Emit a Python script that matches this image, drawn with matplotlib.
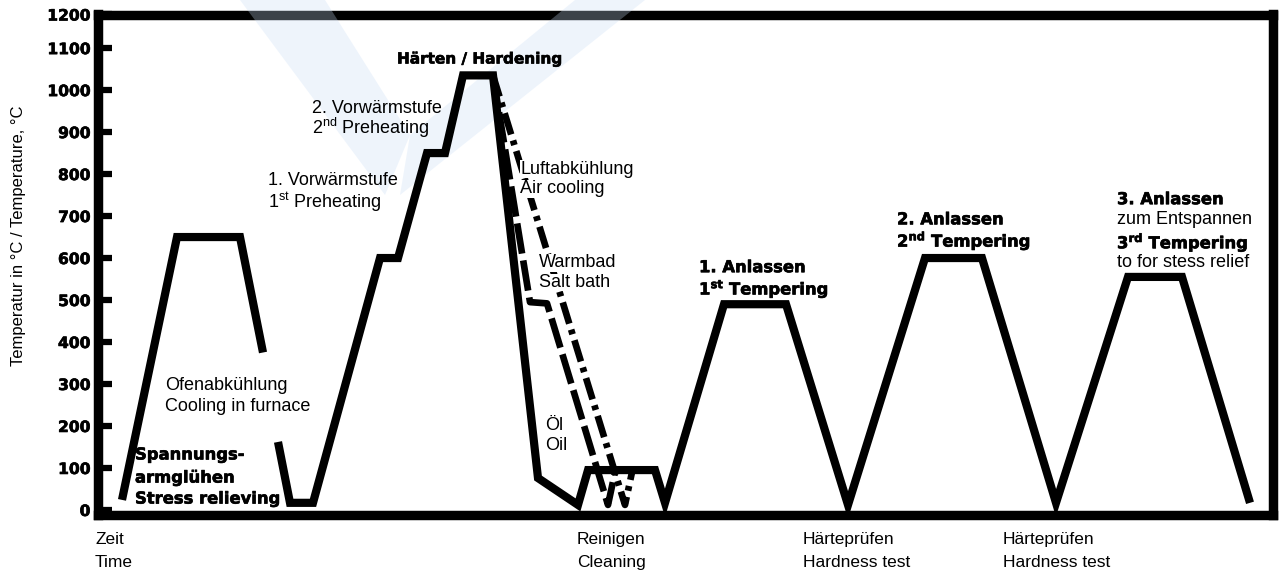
import matplotlib
matplotlib.use("Agg")
import matplotlib.pyplot as plt
from matplotlib import patheffects as pe
from matplotlib.patches import Polygon

# ---------------- data (time axis in arbitrary units, temperature in °C) -------------
stress_time = [122, 177, 240, 263]
stress_temp = [24, 650, 650, 375]

main_time = [278, 290, 313, 380, 398, 427, 445, 463, 493, 538, 578, 588, 655, 665,
             724, 786, 848, 925, 982, 1056, 1128, 1182, 1250]
main_temp = [162, 17, 17, 600, 600, 850, 850, 1035, 1035, 76, 12, 95, 95, 17,
             490, 490, 12, 600, 600, 17, 555, 555, 17]

salt_time = [493, 530, 547, 608, 615]
salt_temp = [1035, 495, 492, 12, 90]

air_time = [493, 625, 632]
air_temp = [1035, 12, 90]

yticks = [0, 100, 200, 300, 400, 500, 600, 700, 800, 900, 1000, 1100, 1180]
ytick_labels = ["0", "100", "200", "300", "400", "500", "600", "700", "800",
                "900", "1000", "1100", "1200"]

# ---------------- style ----------------
plt.rcParams["mathtext.fontset"] = "custom"
plt.rcParams["mathtext.rm"] = "Liberation Sans"
plt.rcParams["mathtext.bf"] = "DejaVu Sans:bold"
plt.rcParams["lines.scale_dashes"] = False

heavy = [pe.withStroke(linewidth=0.45, foreground="black")]
REG = dict(family="Liberation Sans", fontsize=13, color="black")
BOLD = dict(family="DejaVu Sans", fontweight="bold", fontsize=11.8, color="black",
            path_effects=heavy)
MASK = dict(facecolor="white", edgecolor="none", pad=0.3)

fig = plt.figure(figsize=(12.79, 5.73), dpi=100)
ax = fig.add_axes([98 / 1279, 1 - 515 / 573, (1273 - 98) / 1279, (515 - 14.5) / 573])
ax.set_xlim(98, 1273)
ax.set_ylim(-12, 1180)

lw = 5.9
ax.plot(stress_time, stress_temp, color="black", lw=lw, solid_joinstyle="miter",
        solid_capstyle="butt", zorder=3)
ax.plot(main_time, main_temp, color="black", lw=lw, solid_joinstyle="miter",
        solid_capstyle="butt", zorder=3)
ax.plot(salt_time, salt_temp, color="black", lw=4.8, linestyle=(0, (22, 5)),
        dash_capstyle="butt", zorder=4)
ax.plot(air_time, air_temp, color="black", lw=4.8, linestyle=(0, (16, 4.5, 3.5, 4.5)),
        dash_capstyle="butt", zorder=4)

# spines / ticks
for s in ax.spines.values():
    s.set_linewidth(6.8)
    s.set_capstyle("projecting")
ax.set_xticks([])
ax.set_yticks(yticks)
ax.set_yticklabels(ytick_labels, family="DejaVu Sans", fontweight="bold", fontsize=11.2)
for lab in ax.get_yticklabels():
    lab.set_path_effects(heavy)
ax.tick_params(axis="y", direction="in", length=10, width=4.5, pad=5.5, right=False)

fig.text(19 / 1279, 1 - 236 / 573, "Temperatur in °C / Temperature, °C", rotation=90,
         va="center", ha="center", family="Liberation Sans", fontsize=12)

# ---------------- annotations ----------------
def t(x, y, s, style, mask=False):
    kw = dict(style)
    if mask:
        kw["bbox"] = MASK
    ax.text(x, y, s, ha="left", va="center", clip_on=False, zorder=6, **kw)

t(397, 1074, "Härten / Hardening", dict(BOLD, fontsize=11))
t(312, 957, "2. Vorwärmstufe", REG)
t(312, 910, "2$^{\\mathrm{nd}}$ Preheating", REG)
t(268, 784, "1. Vorwärmstufe", REG)
t(268, 734, "1$^{\\mathrm{st}}$ Preheating", REG)
t(520, 812, "Luftabkühlung", REG, mask=True)
t(520, 765, "Air cooling", REG, mask=True)
t(539, 589, "Warmbad", REG, mask=True)
t(539, 542, "Salt bath", REG, mask=True)
t(545, 202, "Öl", REG)
t(545, 154, "Oil", REG)
t(165, 297, "Ofenabkühlung", REG)
t(165, 247, "Cooling in furnace", REG)
t(135, 131, "Spannungs-", BOLD)
t(135, 76, "armglühen", BOLD)
t(135, 26, "Stress relieving", BOLD)
t(699, 577, "1. Anlassen", BOLD)
t(699, 527, "1$^{\\mathbf{st}}$ Tempering", BOLD)
t(897, 691, "2. Anlassen", BOLD)
t(897, 641, "2$^{\\mathbf{nd}}$ Tempering", BOLD)
t(1117, 739, "3. Anlassen", BOLD)
t(1117, 691, "zum Entspannen", REG)
t(1117, 637, "3$^{\\mathbf{rd}}$ Tempering", BOLD)
t(1117, 589, "to for stess relief", REG)

for x0, a, b in [(95, "Zeit", "Time"), (577, "Reinigen", "Cleaning"),
                 (803, "Härteprüfen", "Hardness test"), (1003, "Härteprüfen", "Hardness test")]:
    t(x0, -71, a, dict(REG, fontsize=12.5))
    t(x0, -126, b, dict(REG, fontsize=12.5))

# very faint watermark (light blue "V") in figure pixel coordinates:
# tints the frame but stays beneath the curves and the text
def fp(x, y):
    return (x / 1279, 1 - y / 573)

left_arm = [fp(240, 0), fp(325, 0), fp(410, 135), fp(385, 195)]
right_arm = [fp(575, 0), fp(645, 0), fp(400, 195), fp(410, 135)]
for poly in (left_arm, right_arm):
    ax.add_patch(Polygon(poly, closed=True, transform=fig.transFigure,
                         facecolor="#c7dcf5", edgecolor="none", alpha=0.3,
                         zorder=2.6, clip_on=False))

fig.savefig("out.png", dpi=100)
